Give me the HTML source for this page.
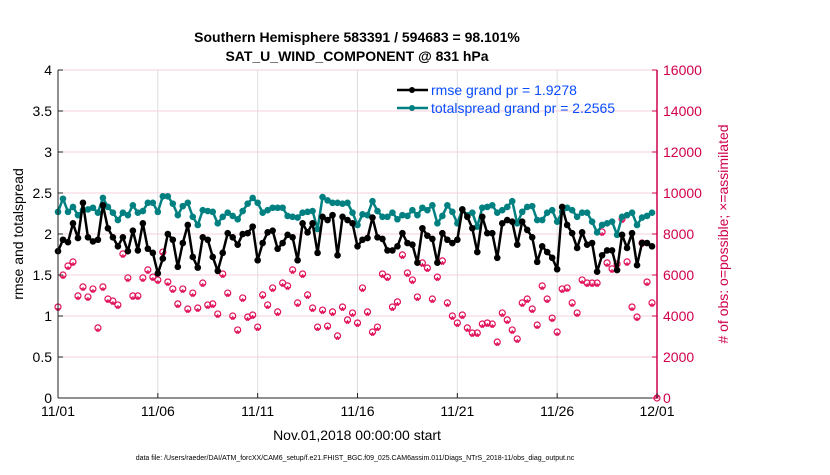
<!DOCTYPE html>
<html><head><meta charset="utf-8"><style>
body{margin:0;background:#fff;width:830px;height:470px;overflow:hidden;font-family:"Liberation Sans",Arial,sans-serif}
</style></head><body>
<svg id="chart" width="830" height="470" xmlns="http://www.w3.org/2000/svg" font-family="Liberation Sans, Arial, sans-serif">
<text x="357" y="42" text-anchor="middle" font-size="14" font-weight="bold">Southern Hemisphere 583391 / 594683 = 98.101%</text>
<text x="357" y="61" text-anchor="middle" font-size="14" font-weight="bold">SAT_U_WIND_COMPONENT @ 831 hPa</text>
<g id="grid"></g>
<g id="marks"></g>
<g id="axes"></g>
<text transform="translate(23,234) rotate(-90)" text-anchor="middle" font-size="14">rmse and totalspread</text>
<text transform="translate(728,234) rotate(-90)" text-anchor="middle" font-size="14" fill="#d0004c"># of obs: o=possible; ×=assimilated</text>
<text x="357" y="440" text-anchor="middle" font-size="14">Nov.01,2018 00:00:00 start</text>
<text x="355" y="460" text-anchor="middle" font-size="7">data file: /Users/raeder/DAI/ATM_forcXX/CAM6_setup/f.e21.FHIST_BGC.f09_025.CAM6assim.011/Diags_NTrS_2018-11/obs_diag_output.nc</text>
<g>
<line x1="397" y1="90" x2="428" y2="90" stroke="#000" stroke-width="2.5"/><circle cx="412" cy="90" r="3" fill="#000"/>
<text x="431" y="95" font-size="14" fill="#0a4dff">rmse grand pr = 1.9278</text>
<line x1="397" y1="108" x2="428" y2="108" stroke="#008080" stroke-width="2.5"/><circle cx="412" cy="108" r="3" fill="#008080"/>
<text x="431" y="113" font-size="14" fill="#0a4dff">totalspread grand pr = 2.2565</text>
</g>
</svg>
<script>
const dayTicks=[0,5,10,15,20,25,30];
const dayLabels=["11/01","11/06","11/11","11/16","11/21","11/26","12/01"];
const leftTicks=[0,0.5,1,1.5,2,2.5,3,3.5,4];
const rightTicks=[0,2000,4000,6000,8000,10000,12000,14000,16000];
const rmse=[1.79,1.93,1.90,2.13,1.95,2.38,1.96,1.91,1.93,2.35,2.07,1.96,1.85,1.96,1.79,2.04,1.80,2.13,1.82,1.77,1.52,1.70,2.00,1.93,1.60,1.89,2.11,1.72,1.59,1.96,1.93,1.72,1.55,1.77,2.01,1.96,1.87,2.00,2.01,2.09,1.68,1.89,2.02,2.04,1.82,1.89,1.99,1.96,1.68,2.13,2.02,2.13,1.77,2.21,2.17,2.23,1.74,2.21,2.17,2.13,1.85,1.93,1.95,2.20,1.96,1.94,1.80,1.80,1.85,2.01,1.89,1.87,1.65,2.07,1.98,1.94,1.65,2.01,1.93,1.89,1.93,2.30,2.21,2.07,1.78,2.21,2.01,2.01,1.71,2.13,2.17,2.15,1.87,2.15,2.05,1.96,1.66,1.85,1.78,1.71,1.57,2.33,2.11,2.01,1.83,2.02,1.87,1.89,1.54,1.74,1.80,1.80,1.56,1.99,1.83,2.01,1.62,1.89,1.89,1.85];
const spread=[2.27,2.43,2.27,2.33,2.23,2.29,2.30,2.32,2.26,2.44,2.33,2.26,2.17,2.26,2.23,2.35,2.26,2.28,2.38,2.38,2.27,2.46,2.46,2.37,2.23,2.34,2.38,2.21,2.11,2.29,2.28,2.27,2.13,2.21,2.26,2.22,2.18,2.28,2.37,2.44,2.38,2.26,2.29,2.32,2.32,2.32,2.22,2.21,2.20,2.26,2.27,2.28,2.06,2.45,2.41,2.38,2.38,2.37,2.38,2.26,2.11,2.24,2.23,2.40,2.28,2.21,2.21,2.26,2.18,2.23,2.22,2.29,2.23,2.32,2.29,2.35,2.13,2.22,2.35,2.27,2.13,2.30,2.23,2.26,2.09,2.32,2.33,2.35,2.26,2.29,2.33,2.40,2.13,2.27,2.33,2.34,2.17,2.17,2.26,2.29,2.15,2.27,2.32,2.29,2.21,2.26,2.26,2.15,2.02,2.11,2.13,2.15,1.99,2.21,2.23,2.26,2.11,2.20,2.22,2.26];
const possible=[4440,6000,6440,6640,4980,5420,4930,5320,3420,5420,4830,4730,4540,7030,5860,4980,4980,5860,6250,5900,5760,7120,5660,5320,4590,5320,4340,5120,4390,5610,4540,4590,4100,6050,5120,4000,3320,4880,3950,4050,3460,5030,4540,5370,4200,5610,5470,6250,4640,6050,5030,4390,3460,4290,3510,4200,3030,4440,3810,4150,3660,5370,4200,3220,3460,6050,5900,4440,4690,6980,6100,5760,4930,6590,6340,4830,5900,6690,4640,4000,3660,4050,3420,3170,3170,3610,3660,3610,2730,4150,3810,3320,2880,4640,4830,4340,3560,5470,4830,3900,3220,5320,5370,4640,4150,5760,5610,5610,5610,8100,6590,6300,6540,8730,6640,4440,3950,7560,5660,4640,0];
const assimilated=[4290,5850,6290,6490,4830,5270,4780,5170,3270,5270,4680,4580,4390,6880,5710,4830,4830,5710,6100,5750,5610,6970,5510,5170,4440,5170,4190,4970,4240,5460,4390,4440,3950,5900,4970,3850,3170,4730,3800,3900,3310,4880,4390,5220,4050,5460,5320,6100,4490,5900,4880,4240,3310,4140,3360,4050,2880,4290,3660,4000,3510,5220,4050,3070,3310,5900,5750,4290,4540,6830,5950,5610,4780,6440,6190,4680,5750,6540,4490,3850,3510,3900,3270,3020,3020,3460,3510,3460,2580,4000,3660,3170,2730,4490,4680,4190,3410,5320,4680,3750,3070,5170,5220,4490,4000,5610,5460,5460,5460,7950,6440,6150,6390,8580,6490,4290,3800,7410,5510,4490,0];

const NS="http://www.w3.org/2000/svg";
const X0=58,X1=657,Y0=398,Y1=70;
const xDay=d=>X0+(X1-X0)*d/30;
const xIdx=i=>xDay(i*0.25);
const yL=v=>Y0-(Y0-Y1)*v/4;
const yR=v=>Y0-(Y0-Y1)*v/16000;
function mk(tag,attrs,parent){const e=document.createElementNS(NS,tag);for(const k in attrs)e.setAttribute(k,attrs[k]);parent.appendChild(e);return e;}
const grid=document.getElementById('grid'),marks=document.getElementById('marks'),axes=document.getElementById('axes');
mk('rect',{x:X0,y:Y1,width:X1-X0,height:Y0-Y1,fill:'#fff'},grid);
dayTicks.forEach(d=>{const l=mk('line',{x1:xDay(d),x2:xDay(d),y1:Y1,y2:Y0,stroke:'#dedede','stroke-width':1},grid);

});
rightTicks.forEach(v=>{const l=mk('line',{x1:X0,x2:X1,y1:yR(v),y2:yR(v),stroke:'#f5d0dc','stroke-width':1},grid);

});
possible.forEach((v,i)=>{const c=mk('circle',{cx:xIdx(i),cy:yR(v),r:3,fill:'none',stroke:'#e0105a','stroke-width':1.2},marks);

});
assimilated.forEach((v,i)=>{const x=xIdx(i),y=yR(v);const g=mk('text',{x:x,y:y+4.5,'text-anchor':'middle','font-size':11,fill:'#e0105a','font-weight':'bold'},marks);g.textContent='*';

});
function series(arr,color,name){const p=mk('polyline',{points:arr.map((v,i)=>xIdx(i)+','+yL(v)).join(' '),fill:'none',stroke:color,'stroke-width':2.5,'stroke-linejoin':'round'},marks);


arr.forEach((v,i)=>{const c=mk('circle',{cx:xIdx(i),cy:yL(v),r:3.3,fill:color},marks);

});}
series(spread,'#008080','totalspread');
series(rmse,'#000','rmse');
mk('line',{x1:X0,x2:X0,y1:Y1,y2:Y0,stroke:'#222','stroke-width':1},axes);
mk('line',{x1:X0,x2:X1,y1:Y0,y2:Y0,stroke:'#222','stroke-width':1},axes);
mk('line',{x1:X1,x2:X1,y1:Y1,y2:Y0,stroke:'#d0004c','stroke-width':1.5},axes);
leftTicks.forEach(v=>{mk('line',{x1:X0,x2:X0+5,y1:yL(v),y2:yL(v),stroke:'#222'},axes);
const t=mk('text',{x:X0-6,y:yL(v)+5,'text-anchor':'end','font-size':14},axes);t.textContent=String(v);

});
rightTicks.forEach(v=>{mk('line',{x1:X1-5,x2:X1,y1:yR(v),y2:yR(v),stroke:'#d0004c'},axes);
const t=mk('text',{x:X1+6,y:yR(v)+5,'font-size':14,fill:'#d0004c'},axes);t.textContent=String(v);

});
dayTicks.forEach((d,i)=>{mk('line',{x1:xDay(d),x2:xDay(d),y1:Y0-5,y2:Y0,stroke:'#222'},axes);
const t=mk('text',{x:xDay(d),y:Y0+18,'text-anchor':'middle','font-size':14},axes);t.textContent=dayLabels[i];

});
</script>
</body></html>
